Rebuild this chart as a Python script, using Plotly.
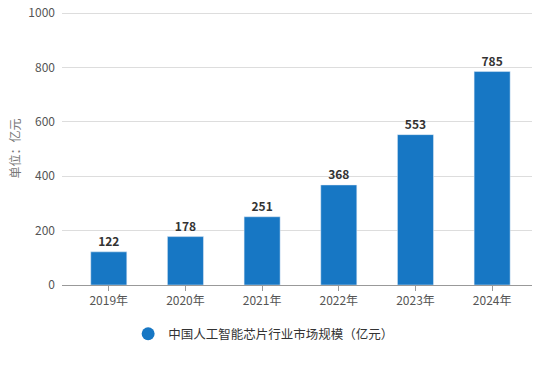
import plotly.graph_objects as go

years = ["2019年", "2020年", "2021年", "2022年", "2023年", "2024年"]
values = [122, 178, 251, 368, 553, 785]
series_name = "中国人工智能芯片行业市场规模（亿元）"
y_title = "单位：亿元"
bar_color = "#1777c4"

font_family = "Microsoft YaHei, Noto Sans CJK SC, sans-serif"

fig = go.Figure()
fig.add_trace(go.Bar(
    x=list(range(len(years))), y=values, width=0.47,
    marker_color=bar_color, showlegend=False,
    text=[str(v) for v in values], textposition="outside",
    textfont=dict(size=12, color="#333333", family="Noto Sans CJK SC"),
    texttemplate="<b>%{text}</b>", cliponaxis=False,
))
fig.add_trace(go.Scatter(
    x=[None], y=[None], mode="markers", name=series_name,
    marker=dict(symbol="circle", size=13, color=bar_color),
))
fig.update_layout(
    width=540, height=368,
    margin=dict(l=62, r=8, t=12, b=83, autoexpand=False),
    paper_bgcolor="white", plot_bgcolor="white",
    font=dict(family=font_family, size=12, color="#555555"),
    bargap=0.5,
    xaxis=dict(
        tickmode="array", tickvals=list(range(len(years))), ticktext=years,
        range=[-0.61, 5.52], showgrid=False, showline=True,
        linecolor="#999999", linewidth=1, ticks="outside", ticklen=5,
        tickcolor="#999999", tickfont=dict(size=12, color="#555555"),
        zeroline=False, automargin=False,
    ),
    yaxis=dict(
        range=[0, 1004], tickvals=[0, 200, 400, 600, 800, 1000],
        showgrid=True, gridcolor="#dddddd", gridwidth=1, zeroline=False,
        tickfont=dict(size=12, color="#555555"), ticklabelstandoff=6,
        automargin=False,
    ),
    legend=dict(
        orientation="h", x=0.429, xanchor="center", y=-0.125, yanchor="top",
        font=dict(size=12.5, color="#333333"),
    ),
    annotations=[dict(
        text=y_title, textangle=-90, xref="paper", yref="paper",
        x=-0.102, y=0.5, xanchor="center", yanchor="middle", showarrow=False,
        font=dict(size=12, color="#777777"),
    )],
)
fig.write_html("out.html", config={"displayModeBar": False},
               post_script="document.body.style.margin='0';")
